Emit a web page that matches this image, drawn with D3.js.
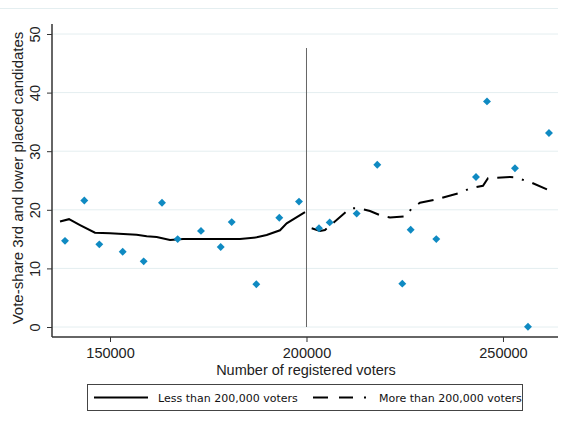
<!DOCTYPE html>
<html>
<head>
<meta charset="utf-8">
<script src="https://cdn.jsdelivr.net/npm/d3@7"></script>
<style>
  body { margin: 0; background: #fff; }
  svg { display: block; }
</style>
</head>
<body>
<svg id="chart" width="568" height="425"></svg>
<script>
// district points: registered voters / vote share of 3rd and lower candidates
const voters = [138550, 143460, 147280, 153230, 158570, 163230, 167220, 173150, 178170,
  180970, 187230, 193080, 198090, 203180, 205900, 212770, 218010, 224380, 226510,
  233030, 243130, 245930, 253050, 256360, 261700];
const share = [14.7, 21.6, 14.1, 12.85, 11.2, 21.2, 15.0, 16.4, 13.65,
  17.9, 7.3, 18.65, 21.4, 16.85, 17.85, 19.35, 27.7, 7.4, 16.6,
  15.0, 25.6, 38.5, 27.1, 0.05, 33.1];

// smoothed fit, below 200,000
const lowX = [137280, 139570, 142370, 146180, 150000, 156790, 159340, 161880, 165270,
  168580, 183080, 187330, 189870, 193260, 194960, 199620];
const lowY = [18.0, 18.4, 17.4, 16.1, 16.0, 15.75, 15.5, 15.35, 14.85,
  15.0, 15.0, 15.3, 15.7, 16.5, 17.7, 19.6];

// smoothed fit, above 200,000
const highX = [201320, 203430, 204710, 211070, 213100, 216160, 218960, 221250, 225320,
  226770, 228880, 233460, 239060, 241600, 244910, 246180, 251780, 253050, 257380, 261960];
const highY = [16.85, 16.4, 16.55, 20.25, 20.3, 19.8, 19.0, 18.7, 18.9,
  20.25, 21.2, 21.85, 22.9, 23.65, 24.1, 25.4, 25.6, 25.55, 24.6, 23.25];

const xTicks = [150000, 200000, 250000];
const yTicks = [0, 10, 20, 30, 40, 50];
const cutoff = 200000;
const legendLabels = ["Less than 200,000 voters", "More than 200,000 voters"];

const svg = d3.select("#chart");
const left = 52, right = 558, axisY = 337;
const dashPattern = "16,9,16,9,2,9";
const axisFont = "14.5px 'Liberation Sans', Arial, sans-serif";

const x = d3.scaleLinear().domain([135240, 264000]).range([left, right]);
const y = d3.scaleLinear().domain([0, 50]).range([327, 34]);

// faint frame line at top
svg.append("line")
  .attr("x1", 0).attr("x2", right).attr("y1", 8.5).attr("y2", 8.5)
  .attr("stroke", "#e4eef0").attr("stroke-width", 1);

// gridlines
svg.append("g")
  .selectAll("line")
  .data(yTicks)
  .join("line")
  .attr("x1", left).attr("x2", right)
  .attr("y1", d => y(d)).attr("y2", d => y(d))
  .attr("stroke", "#e4eef0").attr("stroke-width", 1);

// cutoff line
svg.append("line")
  .attr("x1", x(cutoff)).attr("x2", x(cutoff))
  .attr("y1", 48).attr("y2", y(0))
  .attr("stroke", "#666").attr("stroke-width", 1);

// y axis
const yAxis = svg.append("g")
  .attr("transform", `translate(${left},0)`)
  .call(d3.axisLeft(y).tickValues(yTicks).tickSize(5).tickSizeOuter(0));
yAxis.select(".domain").remove();
yAxis.append("line")
  .attr("x1", 0).attr("x2", 0).attr("y1", 24).attr("y2", axisY)
  .attr("stroke", "#333").attr("stroke-width", 1.5);
yAxis.selectAll(".tick line").attr("stroke", "#333");
yAxis.selectAll(".tick text")
  .attr("transform", "rotate(-90)")
  .attr("x", 0).attr("y", -12).attr("dy", 0)
  .attr("text-anchor", "middle")
  .attr("fill", "#222")
  .style("font", axisFont);

// x axis
const xAxis = svg.append("g")
  .attr("transform", `translate(0,${axisY})`)
  .call(d3.axisBottom(x).tickValues(xTicks).tickFormat(d3.format("d")).tickSize(5).tickSizeOuter(0));
xAxis.select(".domain").remove();
xAxis.append("line")
  .attr("x1", left).attr("x2", right).attr("y1", 0).attr("y2", 0)
  .attr("stroke", "#333").attr("stroke-width", 1.5);
xAxis.selectAll(".tick line").attr("stroke", "#333");
xAxis.selectAll(".tick text")
  .attr("y", 21).attr("dy", 0)
  .attr("fill", "#222")
  .style("font", axisFont);

// axis titles
svg.append("text")
  .attr("x", 306).attr("y", 375)
  .attr("text-anchor", "middle")
  .attr("fill", "#222")
  .style("font", axisFont)
  .text("Number of registered voters");

svg.append("text")
  .attr("transform", "translate(23,178) rotate(-90)")
  .attr("text-anchor", "middle")
  .attr("fill", "#222")
  .style("font", "15px 'Liberation Sans', Arial, sans-serif")
  .text("Vote-share 3rd and lower placed candidates");

// smoothed lines
const line = d3.line().x(d => x(d[0])).y(d => y(d[1]));
svg.append("path")
  .datum(d3.zip(lowX, lowY))
  .attr("d", line)
  .attr("fill", "none").attr("stroke", "#000").attr("stroke-width", 2);
svg.append("path")
  .datum(d3.zip(highX, highY))
  .attr("d", line)
  .attr("fill", "none").attr("stroke", "#000").attr("stroke-width", 2)
  .attr("stroke-dasharray", dashPattern);

// scatter points (diamonds)
svg.append("g")
  .selectAll("path")
  .data(d3.zip(voters, share))
  .join("path")
  .attr("transform", d => `translate(${x(d[0])},${y(d[1])})`)
  .attr("d", d3.symbol(d3.symbolDiamond2, 40))
  .attr("fill", "#0f8ac2");

// legend
const legend = svg.append("g");
legend.append("rect")
  .attr("x", 87.5).attr("y", 384.5).attr("width", 435).attr("height", 26)
  .attr("fill", "#fff").attr("stroke", "#444").attr("stroke-width", 1);

const legendItems = [
  { x1: 94, x2: 148, tx: 158, dash: null },
  { x1: 313, x2: 369, tx: 379, dash: "15,11,14,11,2,11" }
];
legendItems.forEach((item, i) => {
  legend.append("line")
    .attr("x1", item.x1).attr("x2", item.x2).attr("y1", 397.5).attr("y2", 397.5)
    .attr("stroke", "#000").attr("stroke-width", 2)
    .attr("stroke-dasharray", item.dash);
  legend.append("text")
    .attr("x", item.tx).attr("y", 401.5)
    .attr("fill", "#111")
    .style("font", "11px 'DejaVu Sans', Verdana, sans-serif")
    .text(legendLabels[i]);
});
</script>
</body>
</html>
